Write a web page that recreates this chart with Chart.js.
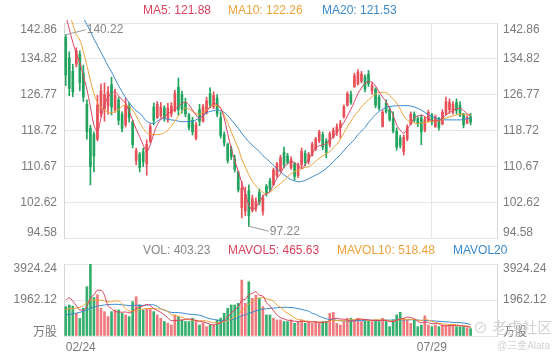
<!DOCTYPE html>
<html>
<head>
<meta charset="utf-8">
<script src="https://cdn.jsdelivr.net/npm/chart.js@4.4.1/dist/chart.umd.min.js"></script>
<style>
html,body{margin:0;padding:0;background:#fff;}
body{width:560px;height:360px;overflow:hidden;position:relative;font-family:"Liberation Sans",Arial,"Noto Sans CJK SC",sans-serif;}
canvas{position:absolute;left:0;}
#priceCanvas{top:0;}
#volCanvas{top:244px;}
.lg{position:absolute;font-size:12px;line-height:14px;white-space:nowrap;z-index:2;}
.wm{position:absolute;color:#d2d2d2;white-space:nowrap;z-index:3;}
</style>
</head>
<body>
<canvas id="priceCanvas" width="560" height="258"></canvas>
<canvas id="volCanvas" width="560" height="116"></canvas>
<div class="lg" id="lgMa5" style="left:143px;top:3px;color:#d9435f"></div>
<div class="lg" id="lgMa10" style="left:228px;top:3px;color:#f0a23a"></div>
<div class="lg" id="lgMa20" style="left:322px;top:3px;color:#3a8acb"></div>
<div class="lg" id="lgVol" style="left:143px;top:243px;color:#888"></div>
<div class="lg" id="lgMv5" style="left:228px;top:243px;color:#d9435f"></div>
<div class="lg" id="lgMv10" style="left:337px;top:243px;color:#f0a23a"></div>
<div class="lg" id="lgMv20" style="left:453px;top:243px;color:#3a8acb"></div>
<div class="wm" style="left:473px;top:316px;font-size:15px;">⊘ 老虎社区</div>
<div class="wm" style="left:497px;top:337px;font-size:10px;">@三金Alata</div>
<script>
// ---------- data ----------
const slotCount = 123;
const xTickIndex = [0, 104];
const xTickText = ['02/24', '07/29'];
const priceTicks = [94.58, 102.62, 110.67, 118.72, 126.77, 134.82, 142.86];
const volTicks = [0, 1962.12, 3924.24];
const volTickText = ['万股', '1962.12', '3924.24'];

const openP = [139.6,135.0,132.0,133.6,135.8,131.6,124.6,119.2,117.8,116.8,
122.6,123.6,124.2,129.0,123.4,125.6,122.4,120.0,124.2,120.6,
112.0,113.4,114.0,111.2,116.4,124.0,121.6,122.0,123.8,121.4,
122.4,123.2,128.4,126.8,124.8,122.2,121.0,117.0,123.4,120.8,
122.8,127.0,124.0,126.0,121.6,117.8,115.6,114.6,112.4,109.4,
101.4,100.6,105.2,100.8,101.2,104.8,100.6,106.2,107.4,106.6,
108.6,109.8,113.8,113.0,110.4,111.2,108.6,111.0,113.6,111.8,
113.2,114.6,116.4,117.8,116.4,115.6,117.2,118.2,119.4,121.8,
124.4,126.8,128.6,129.2,129.8,130.8,131.4,127.6,128.0,126.2,
119.6,124.8,123.4,121.4,118.6,117.0,114.0,116.8,120.2,122.4,
121.4,121.6,118.8,120.8,122.2,119.6,121.4,120.2,122.6,123.4,
122.8,125.0,124.4,122.4,120.4,121.8];
const highP = [140.22,136.4,133.6,137.3,136.6,133.4,125.6,119.9,118.4,126.6,
129.2,129.4,128.6,130.7,128.0,126.2,122.9,126.0,125.0,121.0,
114.8,113.8,114.8,116.6,120.2,124.9,125.2,125.0,124.3,124.8,
125.0,127.8,130.5,127.6,126.0,122.6,121.7,120.6,124.6,124.6,
126.2,128.3,127.4,126.8,122.9,118.4,115.9,115.2,113.2,109.6,
107.2,106.0,106.5,104.2,103.6,105.6,104.2,106.6,108.0,110.3,
111.6,113.2,115.0,113.6,112.8,111.6,111.4,114.8,114.2,113.8,
116.1,117.2,118.8,118.4,116.9,118.4,119.3,120.2,121.0,124.5,
127.4,127.6,131.6,132.4,132.0,131.2,132.2,129.4,128.3,126.7,
123.3,125.6,124.0,122.9,119.3,117.6,117.7,120.0,122.9,122.9,
121.8,122.2,121.8,123.3,122.6,122.2,121.7,123.4,126.2,125.8,
125.2,125.8,125.2,122.6,122.0,122.6];
const lowP = [128.8,126.5,126.3,133.0,127.6,125.2,116.8,106.5,109.4,116.4,
121.8,120.8,122.4,122.2,122.8,120.0,118.4,119.5,120.6,114.8,
111.0,109.4,110.6,108.7,116.0,120.0,121.4,121.5,120.8,120.6,
121.8,122.9,122.2,122.6,121.8,118.8,117.7,116.6,119.8,120.6,
122.4,123.8,123.6,121.8,117.0,115.2,111.4,112.2,109.4,104.9,
99.1,99.6,97.22,100.4,100.6,102.0,99.7,104.0,105.0,106.4,
108.2,109.4,110.3,111.2,110.0,107.6,108.2,110.4,110.8,111.2,
113.0,114.2,116.0,114.4,112.6,115.0,117.0,117.6,117.0,121.5,
124.2,124.6,128.4,128.9,129.4,127.4,128.6,126.8,123.8,123.3,
119.5,122.6,120.8,118.2,114.3,114.8,113.2,116.4,120.0,120.6,
119.6,115.5,118.4,120.6,120.0,119.4,118.8,120.0,122.2,122.6,
122.4,122.4,121.8,119.3,120.2,120.0];
const closeP = [131.2,128.2,127.4,136.6,129.4,126.2,118.4,110.6,113.0,124.4,
127.6,126.8,127.4,124.0,126.6,121.0,119.2,124.4,121.6,115.6,
114.2,110.4,111.6,115.6,119.6,121.0,124.6,124.0,121.6,123.8,
124.2,127.0,123.4,123.6,122.4,119.4,118.4,120.0,120.8,124.0,
125.4,124.6,126.6,122.4,117.6,115.9,112.0,112.8,110.0,105.4,
105.8,104.4,99.6,103.4,102.8,102.6,103.6,104.6,105.6,109.8,
111.2,112.6,111.0,111.6,112.2,108.4,111.0,114.0,111.6,113.4,
115.6,116.8,118.4,115.0,113.8,118.0,118.8,119.6,120.4,124.0,
127.0,125.0,131.0,131.8,131.4,128.0,129.2,128.8,124.4,123.8,
122.8,123.0,121.2,118.6,115.0,115.4,117.2,119.4,122.4,121.0,
120.2,118.4,121.2,122.8,120.6,121.8,119.4,122.8,125.2,125.0,
124.6,123.2,122.2,120.0,121.6,120.6];

const ma5 = [144.5,141.5,138.5,136,134,131,128,124,120,118.5,
121.5,124.5,126.2,127,127.4,126.5,125.6,124.8,123,121.1,
119,117.3,115.5,114,115.5,118,120,121.2,121.8,122.5,
123,123.5,124.2,124.8,125.1,124.5,123.3,122.2,121.5,122.2,
123,124,124.8,124.5,123.7,121.5,118,114.7,112,109.5,
107,104.5,102,101,101.5,102.7,103.9,104.5,105,106.5,
108,109,110.5,111.2,111.7,111.5,110.8,110.2,111,112.3,
113.5,114.8,115.3,115.5,115.8,116.5,117.3,118.3,119.3,120.5,
122,123.5,125.2,127,128.3,129.3,129.7,129.6,128.7,127.4,
126.2,125.2,123.7,122.2,120,118.8,118.1,119,120.2,121.5,
122,122.2,121.8,121.3,121,120.9,120.9,121.5,122.2,122.8,
123.3,123.6,123.7,123.2,122.5,121.88];
const ma10 = [149,145.5,142.5,140.3,139,136.5,133.3,130,127,125,
123.9,123.4,122.8,122.7,123,123.4,124.2,124.4,124.1,123.3,
122,120.5,119.2,118.2,117.9,117.8,117.8,117.9,118.2,118.8,
119.7,120.8,122,123,123.8,123.6,123,122.5,122.4,122.8,
123.3,123.9,124.4,124.3,123.7,122.2,120.5,118.5,116.5,114.7,
112.3,110.5,108.8,107.3,106.3,105.5,104.8,104.5,104.9,105.5,
106.2,106.8,107.5,108.3,109,109.5,109.8,110.1,110.4,110.6,
111.1,111.8,112.5,113,113.5,114,114.8,115.6,116.8,118.2,
119.5,120.8,122,123,124,124.9,125.6,126.3,126.9,127.3,
127.3,127.2,126.6,125.8,124.9,123.5,122,121.1,120.6,120.4,
120.3,120.4,120.5,120.7,120.8,120.9,120.9,121.2,121.5,121.8,
122,122.2,122.4,122.4,122.3,122.26];
const ma20 = [151.5,150,148.5,147,145.5,144,142.5,141,139.3,137.8,
136.3,134.8,133.2,131.9,130.3,128.8,127.4,126.1,125,124,
123.2,122.6,121.7,120.8,120.4,120.3,120.8,121.3,121.4,121.2,
121.1,121,120.8,120.7,120.7,120.7,120.8,121.1,121.5,122.1,
122.7,123,123.2,123.3,123.2,122.8,122.1,121.1,120.2,119.2,
118.1,117.1,116.2,115.4,114.7,114,113.1,112.4,111.7,110.9,
110.1,109.4,108.8,108.2,107.7,107.4,107.2,107.3,107.5,107.9,
108.3,108.7,109.1,109.6,110.2,110.9,111.7,112.5,113.3,114.2,
115.1,115.9,116.7,117.8,118.6,119.4,120.5,121.4,122.3,123,
123.5,123.9,124.1,124.2,124.3,124.3,124.3,124.3,124.2,124,
123.7,123.3,122.8,122.3,121.9,121.5,121.3,121.2,121.1,121.1,
121.1,121.1,121.1,121.2,121.4,121.53];

const vol = [1600,1690,1630,1235,960,1510,2690,3924,2100,2250,
1510,1330,1060,1330,1420,1420,1240,1150,1060,1870,
2140,1690,1420,1510,1510,1330,1150,970,790,700,
600,1150,1060,870,790,790,970,790,600,700,
510,600,600,870,970,1240,1510,1690,1690,1780,
3050,1780,2960,2050,2230,2050,1600,1150,1150,970,
880,880,790,790,880,690,790,880,690,790,
690,790,690,790,790,1240,1280,690,600,790,
970,970,880,970,790,880,880,790,880,790,
970,790,510,880,1150,1290,970,880,690,900,
510,600,1100,600,510,600,510,600,560,600,
600,510,510,510,450,403.23];
const mavol5 = [1960,2080,1900,1650,1423,1405,1605,2064,2237,2495,
2495,2223,1650,1496,1330,1312,1294,1312,1258,1348,
1492,1582,1636,1726,1654,1492,1384,1294,1150,988,
842,842,860,876,894,932,896,842,788,770,
714,640,602,656,710,856,1038,1256,1420,1582,
1944,1998,2252,2324,2414,2214,2178,1816,1636,1384,
1150,1006,934,862,844,806,788,806,786,768,
768,768,730,750,750,860,958,958,920,920,
866,804,842,916,916,898,880,862,844,844,
862,844,788,788,860,924,960,1034,996,946,
790,716,760,742,664,682,664,564,556,574,
574,574,556,546,516,465.63];
const mavol10 = [1450,1480,1500,1520,1560,1650,1800,1950,1960,1959,
1950,1914,1857,1866,1912,1903,1758,1481,1377,1339,
1402,1438,1474,1492,1501,1492,1483,1465,1438,1321,
1167,1113,1077,1013,941,887,869,851,832,832,
823,768,722,722,740,785,839,929,1038,1146,
1400,1518,1754,1872,1998,2079,2088,2034,1980,1899,
1682,1592,1375,1249,1114,978,897,870,824,806,
787,778,768,768,759,814,863,844,835,835,
863,881,900,918,918,882,842,852,880,880,
880,862,825,816,852,893,902,911,892,903,
857,838,897,869,805,736,690,662,649,619,
628,619,560,551,545,518.48];
const mavol20 = [1150,1180,1210,1250,1290,1340,1420,1520,1580,1630,
1660,1690,1710,1720,1730,1720,1700,1680,1660,1649,
1676,1676,1665,1679,1707,1698,1621,1473,1408,1330,
1285,1276,1276,1253,1221,1190,1176,1158,1135,1077,
995,941,900,868,841,836,854,890,935,989,
1112,1143,1238,1297,1369,1432,1464,1482,1509,1523,
1541,1555,1565,1561,1556,1529,1493,1452,1402,1353,
1235,1185,1072,1009,937,896,880,857,830,821,
825,830,834,843,839,848,853,848,858,858,
872,872,863,867,885,888,872,882,886,892,
869,850,861,843,829,815,796,787,771,761,
743,729,729,710,675,631];

// ---------- style ----------
const FONT = '"Liberation Sans", Arial, "Noto Sans CJK SC", sans-serif';
const C_UP = 'rgb(232,80,88)', C_DN = 'rgb(34,164,94)';
const V_UP = 'rgb(238,122,126)', V_DN = 'rgb(54,174,110)';
const C_MA5 = '#d9435f', C_MA10 = '#f0a23a', C_MA20 = '#3a8acb';
const GRID = '#e6e6e6', BORDER = '#d6d6d6', TXT = '#7a7a7a';
const last = a => a[a.length - 1];

document.getElementById('lgMa5').textContent = 'MA5: ' + last(ma5).toFixed(2);
document.getElementById('lgMa10').textContent = 'MA10: ' + last(ma10).toFixed(2);
document.getElementById('lgMa20').textContent = 'MA20: ' + last(ma20).toFixed(2);
document.getElementById('lgVol').textContent = 'VOL: ' + last(vol).toFixed(2);
document.getElementById('lgMv5').textContent = 'MAVOL5: ' + last(mavol5).toFixed(2);
document.getElementById('lgMv10').textContent = 'MAVOL10: ' + last(mavol10).toFixed(2);
document.getElementById('lgMv20').textContent = 'MAVOL20';

const labels = Array.from({length: slotCount}, (_, i) => {
  const k = xTickIndex.indexOf(i);
  return k >= 0 ? xTickText[k] : '';
});
const isUp = closeP.map((c, i) => c >= openP[i]);
const candleColors = isUp.map(u => u ? C_UP : C_DN);
const volColors = isUp.map(u => u ? V_UP : V_DN);

const lineDs = (label, data, color, yAxisID) => ({
  type: 'line', label, data, borderColor: color, borderWidth: 1, pointRadius: 0,
  cubicInterpolationMode: 'monotone', fill: false, yAxisID, order: 0,
  clip: {left: 0, top: 3, right: 0, bottom: 0}
});

const xGridColor = c => c.index === xTickIndex[1] ? GRID : 'rgba(0,0,0,0)';

const extremeMarks = {
  id: 'extremeMarks',
  afterDatasetsDraw(chart) {
    const {ctx, scales} = chart;
    let iMax = 0, iMin = 0;
    for (let i = 1; i < highP.length; i++) {
      if (highP[i] > highP[iMax]) iMax = i;
      if (lowP[i] < lowP[iMin]) iMin = i;
    }
    const marks = [[iMax, highP[iMax], -5], [iMin, lowP[iMin], 5]];
    ctx.save();
    ctx.strokeStyle = '#9a9a9a'; ctx.fillStyle = '#888'; ctx.lineWidth = 1;
    ctx.font = '12px ' + FONT; ctx.textBaseline = 'middle'; ctx.textAlign = 'left';
    marks.forEach(([i, v, dy]) => {
      const px = scales.x.getPixelForValue(i), py = scales.y.getPixelForValue(v);
      ctx.beginPath(); ctx.moveTo(px, py); ctx.lineTo(px + 20, py + dy); ctx.stroke();
      ctx.fillText(v.toFixed(2), px + 21, py + dy);
    });
    ctx.restore();
  }
};

const priceAxis = (pos, width, pad, grid) => ({
  position: pos, min: priceTicks[0], max: last(priceTicks),
  afterBuildTicks: s => { s.ticks = priceTicks.map(v => ({value: v})); },
  afterFit: s => { s.width = width; },
  ticks: {
    color: TXT, padding: pad,
    font: c => ({family: FONT, size: 12, lineHeight: c.index === 0 ? '10px' : '13px'}),
    callback: (v, i) => {
      const t = priceTicks[i].toFixed(2);
      if (i === 0) return [t, ''];
      if (i === priceTicks.length - 1) return ['', t];
      return t;
    }
  },
  grid: {display: grid, color: GRID, drawTicks: false},
  border: {display: true, color: BORDER}
});

const volAxis = (pos, width, pad, grid) => ({
  position: pos, min: volTicks[0], max: last(volTicks),
  afterBuildTicks: s => { s.ticks = volTicks.map(v => ({value: v})); },
  afterFit: s => { s.width = width; },
  ticks: {
    color: TXT, padding: pad,
    font: c => ({family: FONT, size: 12, lineHeight: c.index === 0 ? '6px' : '10px'}),
    callback: (v, i) => {
      const t = volTickText[i];
      if (i === 0) return [t, ''];
      if (i === volTicks.length - 1) return ['', t];
      return t;
    }
  },
  grid: {display: grid, color: GRID, drawTicks: false},
  border: {display: true, color: BORDER}
});

Chart.defaults.font.family = FONT;

new Chart(document.getElementById('priceCanvas'), {
  type: 'bar',
  data: {
    labels,
    datasets: [
      lineDs('MA5', ma5, C_MA5, 'y'),
      lineDs('MA10', ma10, C_MA10, 'y'),
      lineDs('MA20', ma20, C_MA20, 'y'),
      {label: 'body', data: openP.map((o, i) => [o, closeP[i]]), backgroundColor: candleColors,
       barThickness: 2, grouped: false, minBarLength: 1, order: 1, yAxisID: 'y'},
      {label: 'wick', data: lowP.map((l, i) => [l, highP[i]]), backgroundColor: candleColors,
       barThickness: 1, grouped: false, order: 2, yAxisID: 'y'}
    ]
  },
  options: {
    responsive: false, animation: false, devicePixelRatio: 1,
    layout: {padding: {top: 23, bottom: 20, left: 0, right: 0}, autoPadding: false},
    plugins: {legend: {display: false}, tooltip: {enabled: false}},
    scales: {
      x: {offset: true, ticks: {display: false}, afterFit: s => { s.height = 0; },
          grid: {offset: false, drawTicks: false, color: xGridColor}, border: {display: false}},
      y: priceAxis('left', 64, 7, true),
      y2: priceAxis('right', 63, 6, false)
    }
  },
  plugins: [extremeMarks]
});

new Chart(document.getElementById('volCanvas'), {
  type: 'bar',
  data: {
    labels,
    datasets: [
      lineDs('MAVOL5', mavol5, C_MA5, 'y'),
      lineDs('MAVOL10', mavol10, C_MA10, 'y'),
      lineDs('MAVOL20', mavol20, C_MA20, 'y'),
      {label: 'VOL', data: vol, backgroundColor: volColors, barThickness: 2, order: 1, yAxisID: 'y'}
    ]
  },
  options: {
    responsive: false, animation: false, devicePixelRatio: 1,
    layout: {padding: {top: 20, bottom: 0, left: 0, right: 0}, autoPadding: false},
    plugins: {legend: {display: false}, tooltip: {enabled: false}},
    scales: {
      x: {offset: true, afterFit: s => { s.height = 24; },
          ticks: {autoSkip: false, maxRotation: 0, minRotation: 0, align: 'inner', padding: 4,
                  color: TXT, font: {family: FONT, size: 12}},
          grid: {offset: false, drawTicks: false, color: xGridColor}, border: {display: false}},
      y: volAxis('left', 64, 7, true),
      y2: volAxis('right', 63, 6, false)
    }
  }
});
</script>
</body>
</html>
